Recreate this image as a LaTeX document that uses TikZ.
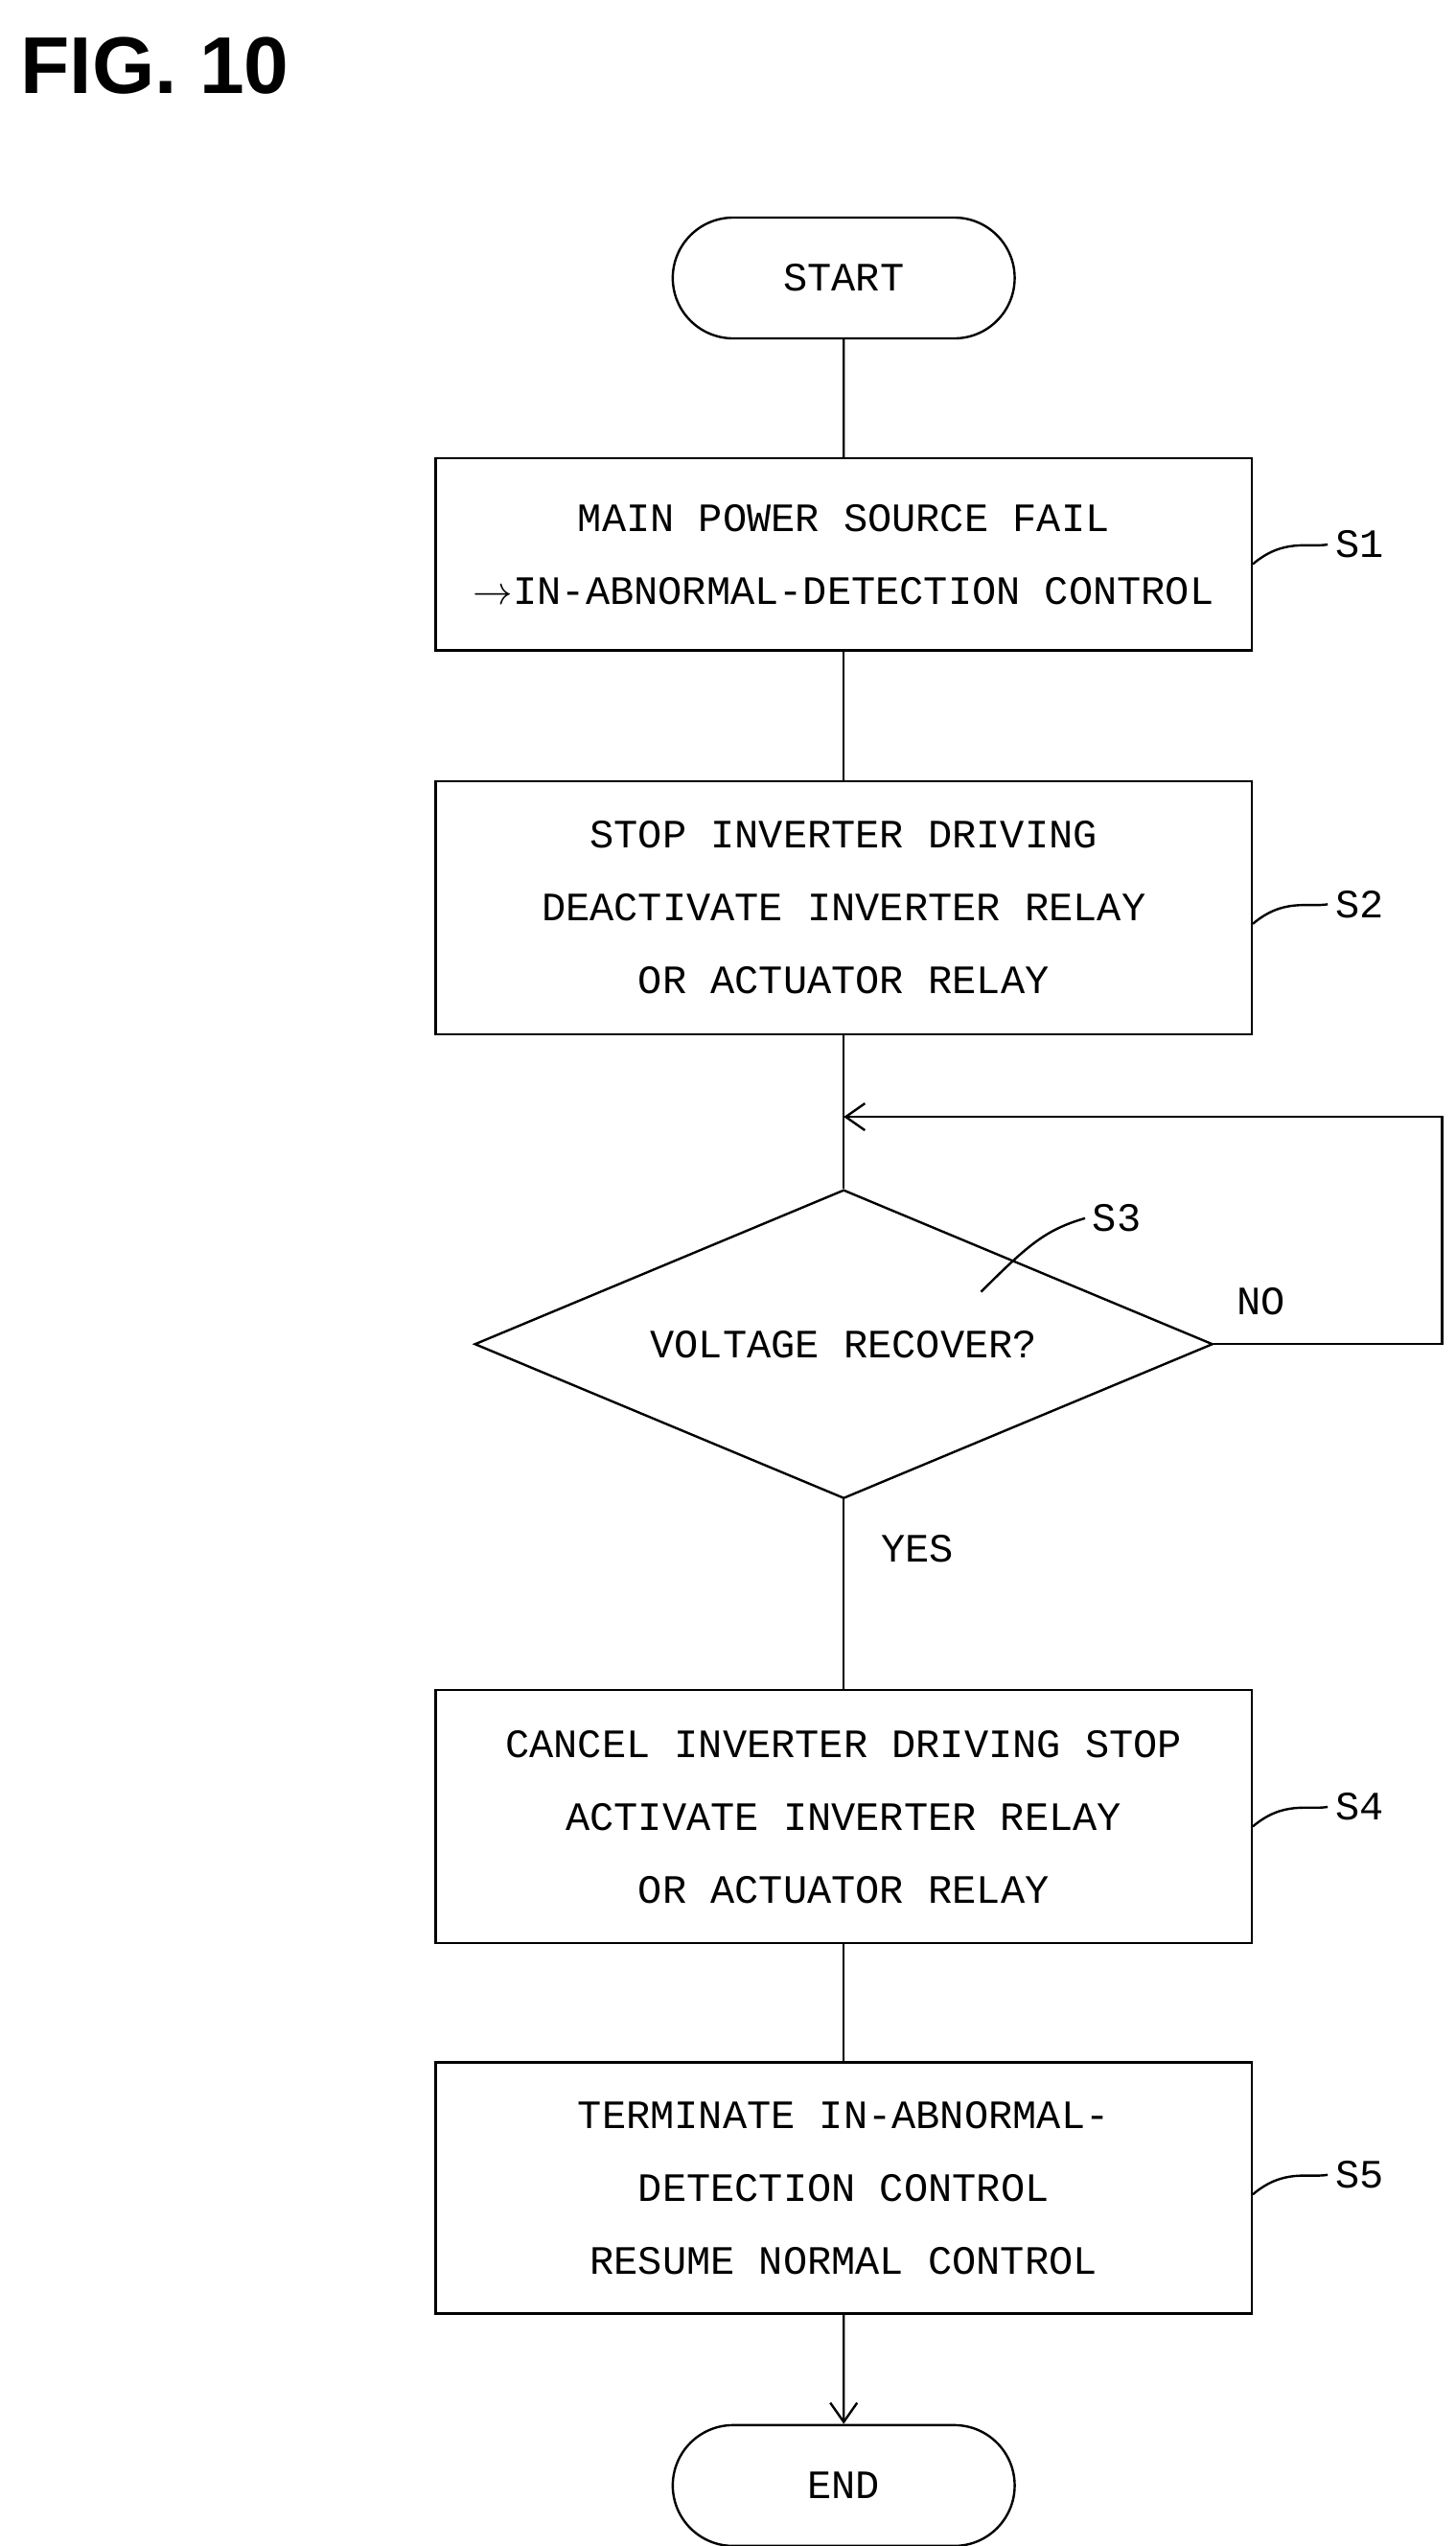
\documentclass[tikz,border=0pt]{standalone}
\usepackage{fontspec}
\setmonofont{Liberation Mono}
\setsansfont{Liberation Sans}
\usetikzlibrary{shapes.geometric,arrows.meta}
\tikzset{every picture/.style={line width=1.2pt},
  stepbox/.style={draw,minimum width=425.5pt,minimum height=#1,align=center,font=\ttfamily\fontsize{21}{38}\selectfont,inner sep=0pt},
  term/.style={draw,rounded rectangle,minimum width=185pt,minimum height=63pt,font=\ttfamily\fontsize{21}{26}\selectfont},
  lbl/.style={font=\ttfamily\fontsize{21}{26}\selectfont}}
\usetikzlibrary{shapes.misc}
\begin{document}
\begin{tikzpicture}[x=0.8528pt,y=-0.8528pt]
\useasboundingbox (0,0) rectangle (890,1557);

% Title
\node[anchor=west,font=\sffamily\bfseries\fontsize{42}{48}\selectfont] (fig) at (8,40) {FIG. 10};

% Terminals
\node[term] (start) at (516,170) {START};
\node[term] (end) at (516,1520) {END};

% Steps
\node[stepbox=100pt] (s1) at (516,339) {MAIN POWER SOURCE FAIL\\$\rightarrow$IN-ABNORMAL-DETECTION CONTROL};
\node[stepbox=132pt] (s2) at (516,555) {STOP INVERTER DRIVING\\DEACTIVATE INVERTER RELAY\\OR ACTUATOR RELAY};
\node[draw,diamond,aspect=2.39,minimum width=385pt,minimum height=161pt,inner sep=0pt,lbl] (s3) at (516,822) {VOLTAGE RECOVER?};
\node[stepbox=132pt] (s4) at (516,1111) {CANCEL INVERTER DRIVING STOP\\ACTIVATE INVERTER RELAY\\OR ACTUATOR RELAY};
\node[stepbox=131pt] (s5) at (516,1338) {TERMINATE IN-ABNORMAL-\\DETECTION CONTROL\\RESUME NORMAL CONTROL};

% Connectors
\coordinate (loop) at (516,683);
\draw (start) -- (s1);
\draw (s1) -- (s2);
\draw (s2) -- (s3);
\draw (s3) -- (s4);
\draw (s4) -- (s5);
\draw[-{Straight Barb[length=10pt,width=14pt]}] (s5) -- (end);
\draw[-{Straight Barb[length=10pt,width=14pt]}] (s3.east) -- (882,822) -- (882,683) -- (loop);

% Branch labels
\node[lbl] (no) at (771,796) {NO};
\node[lbl] (yes) at (561,947) {YES};

% Step labels
\foreach \n/\y in {1/333,2/553,4/1105,5/1330}{
  \node[lbl,anchor=west] (l\n) at (812,\y) {S\n};
  \draw (s\n.east |- 0,\y+12) .. controls (785,\y-4) and (800,\y+2) .. (l\n.west);
}
\node[lbl] (l3) at (683,745) {S3};
\draw (600,790) .. controls (630,760) and (640,752) .. (l3.west);
\end{tikzpicture}
\end{document}
